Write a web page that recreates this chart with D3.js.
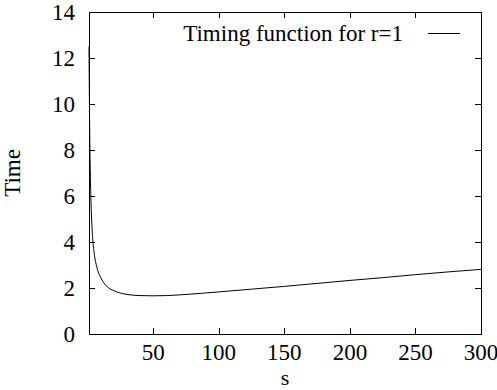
<!DOCTYPE html>
<head>
<meta charset="utf-8">
<script src="https://d3js.org/d3.v7.min.js"></script>
<style>
body { margin: 0; background: white; }
text { font-family: 'Liberation Serif', 'Times New Roman', serif; fill: black; }
.frame { fill: none; stroke: black; stroke-width: 1; }
.curve { fill: none; stroke: black; stroke-width: 1; }
</style>
</head>
<body>
<div id="plotContainer"></div>
<script>

// values
var sValues = [1, 1.5, 2, 2.5, 3, 3.5, 4, 5, 6, 7, 8, 10, 12, 15, 20, 25, 30, 40, 50, 60, 75, 100, 125, 150, 175, 200, 225, 250, 275, 300];
var timeValues = [12.5, 9.0, 7.0, 5.8, 5.0, 4.4, 4.0, 3.5, 3.15, 2.9, 2.7, 2.45, 2.25, 2.05, 1.88, 1.78, 1.72, 1.67, 1.66, 1.67, 1.72, 1.83, 1.95, 2.07, 2.2, 2.33, 2.45, 2.58, 2.7, 2.81];
var xTicks = [50, 100, 150, 200, 250, 300];
var yTicks = [0, 2, 4, 6, 8, 10, 12, 14];
var seriesName = "Timing function for r=1";

var W = 497, H = 390;
var margin = {top: 12, right: 16, bottom: 56, left: 89};
var width = W - margin.left - margin.right,
    height = H - margin.top - margin.bottom;

var svg = d3.select("#plotContainer")
    .append("svg")
    .attr("width", W)
    .attr("height", H);

var x = d3.scaleLinear().range([0, width]).domain([1, 300]);
var y = d3.scaleLinear().range([height, 0]).domain([0, 14]);

var g = svg.append("g")
    .attr("transform", "translate(" + margin.left + "," + margin.top + ")");

var fs = 23, tl = 6;

// ticks, inward and mirrored like gnuplot
g.selectAll(".xt").data(xTicks).enter().append("path")
    .attr("d", function(d) { var px = Math.round(x(d)) + 0.5;
      return "M" + px + "," + height + "v" + (-tl) + "M" + px + ",0v" + tl; })
    .attr("stroke", "black");

g.selectAll(".yt").data(yTicks).enter().append("path")
    .attr("d", function(d) { var py = Math.round(y(d)) + 0.5;
      return "M0," + py + "h" + tl + "M" + width + "," + py + "h" + (-tl); })
    .attr("stroke", "black");

g.selectAll(".xl").data(xTicks).enter().append("text")
    .attr("x", function(d) { return x(d); })
    .attr("y", height + 26)
    .attr("text-anchor", "middle")
    .attr("font-size", fs)
    .text(function(d) { return d; });

g.selectAll(".yl").data(yTicks).enter().append("text")
    .attr("x", -14)
    .attr("y", function(d) { return y(d); })
    .attr("dy", "0.35em")
    .attr("text-anchor", "end")
    .attr("font-size", fs)
    .text(function(d) { return d; });

g.append("rect")
    .attr("class", "frame")
    .attr("x", 0.5).attr("y", 0.5)
    .attr("width", width).attr("height", height);

var line = d3.line()
    .x(function(d, i) { return x(sValues[i]); })
    .y(function(d) { return y(d); })
    .curve(d3.curveMonotoneX);

g.append("path")
    .datum(timeValues)
    .attr("class", "curve")
    .attr("d", line);

// legend
g.append("text")
    .attr("x", 314)
    .attr("y", 21)
    .attr("dy", "0.35em")
    .attr("text-anchor", "end")
    .attr("font-size", fs)
    .text(seriesName);

g.append("line")
    .attr("x1", 339).attr("x2", 371)
    .attr("y1", 21.5).attr("y2", 21.5)
    .attr("stroke", "black");

// axis titles
svg.append("text")
    .attr("x", margin.left + width / 2)
    .attr("y", H - 5)
    .attr("text-anchor", "middle")
    .attr("font-size", 22)
    .text("s");

svg.append("text")
    .attr("transform", "translate(20," + (margin.top + height / 2) + ") rotate(-90)")
    .attr("text-anchor", "middle")
    .attr("font-size", fs)
    .text("Time");

</script>
</body>
